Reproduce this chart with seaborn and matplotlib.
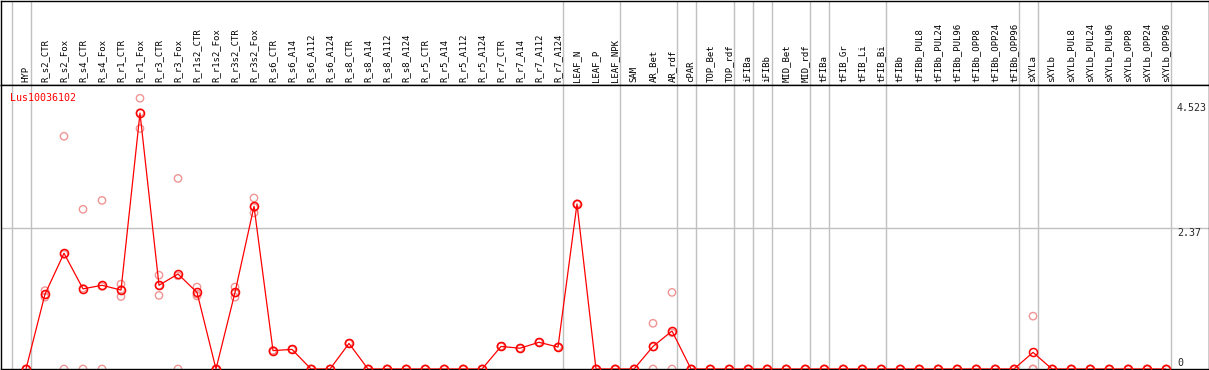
import numpy as np
import pandas as pd
import matplotlib
matplotlib.use("Agg")
import matplotlib.pyplot as plt
import matplotlib.transforms as mtransforms
import seaborn as sns

# sample labels (one column each)
samples = ['HYP', 'R_s2_CTR', 'R_s2_Fox', 'R_s4_CTR', 'R_s4_Fox', 'R_r1_CTR', 'R_r1_Fox',
           'R_r3_CTR', 'R_r3_Fox', 'R_r1s2_CTR', 'R_r1s2_Fox', 'R_r3s2_CTR', 'R_r3s2_Fox',
           'R_s6_CTR', 'R_s6_A14', 'R_s6_A112', 'R_s6_A124', 'R_s8_CTR', 'R_s8_A14',
           'R_s8_A112', 'R_s8_A124', 'R_r5_CTR', 'R_r5_A14', 'R_r5_A112', 'R_r5_A124',
           'R_r7_CTR', 'R_r7_A14', 'R_r7_A112', 'R_r7_A124', 'LEAF_N', 'LEAF_P', 'LEAF_NPK',
           'SAM', 'AR_Bet', 'AR_rdf', 'cPAR', 'TOP_Bet', 'TOP_rdf', 'iFIBa', 'iFIBb',
           'MID_Bet', 'MID_rdf', 'tFIBa', 'tFIB_Gr', 'tFIB_Li', 'tFIB_Bi', 'tFIBb',
           'tFIBb_PUL8', 'tFIBb_PUL24', 'tFIBb_PUL96', 'tFIBb_OPP8', 'tFIBb_OPP24',
           'tFIBb_OPP96', 'sXYLa', 'sXYLb', 'sXYLb_PUL8', 'sXYLb_PUL24', 'sXYLb_PUL96',
           'sXYLb_OPP8', 'sXYLb_OPP24', 'sXYLb_OPP96']

# mean expression per sample
mean_expr = [0, 1.26, 1.95, 1.35, 1.41, 1.33, 4.31, 1.41, 1.60, 1.29,
             0, 1.29, 2.74, 0.31, 0.33, 0, 0, 0.43, 0, 0,
             0, 0, 0, 0, 0, 0.38, 0.35, 0.45, 0.37, 2.78,
             0, 0, 0, 0.38, 0.64, 0, 0, 0, 0, 0,
             0, 0, 0, 0, 0, 0, 0, 0, 0, 0,
             0, 0, 0, 0.28, 0, 0, 0, 0, 0, 0,
             0]

# individual replicates
rep_a = [0, 1.32, 3.92, 2.69, 2.84, 1.43, 4.56, 1.58, 3.21, 1.38,
         0, 1.38, 2.88, 0.31, 0.33, 0, 0, 0.43, 0, 0,
         0, 0, 0, 0, 0, 0.38, 0.35, 0.45, 0.37, 2.78,
         0, 0, 0, 0.77, 1.29, 0, 0, 0, 0, 0,
         0, 0, 0, 0, 0, 0, 0, 0, 0, 0,
         0, 0, 0, 0.89, 0, 0, 0, 0, 0, 0,
         0]
rep_b = [0, 1.21, 0, 0, 0, 1.22, 4.05, 1.24, 0, 1.23,
         0, 1.21, 2.63, 0.31, 0.33, 0, 0, 0.43, 0, 0,
         0, 0, 0, 0, 0, 0.38, 0.35, 0.45, 0.37, 2.78,
         0, 0, 0, 0, 0, 0, 0, 0, 0, 0,
         0, 0, 0, 0, 0, 0, 0, 0, 0, 0,
         0, 0, 0, 0, 0, 0, 0, 0, 0, 0,
         0]
rep_c = [0, 1.25, 1.93, 1.36, 1.39, 1.34, 4.32, 1.41, 1.57, 1.26,
         0, 1.28, 2.72, 0.31, 0.33, 0, 0, 0.43, 0, 0,
         0, 0, 0, 0, 0, 0.38, 0.35, 0.45, 0.37, 2.78,
         0, 0, 0, 0.37, 0.61, 0, 0, 0, 0, 0,
         0, 0, 0, 0, 0, 0, 0, 0, 0, 0,
         0, 0, 0, 0, 0, 0, 0, 0, 0, 0,
         0]

# last column of each sample group
group_ends = [-1, 0, 28, 31, 34, 35, 37, 38, 39, 41, 42, 45, 52, 53, 60]

gene = 'Lus10036102'
max_val = 4.523
mid_val = 2.37

sns.set_style('white')
plt.rcParams['font.family'] = ['DejaVu Sans Mono']

W, H = 1209, 370
fig = plt.figure(figsize=(W / 100, H / 100), dpi=100)

head_h = 85
plot_h = 369 - 85
ax_head = fig.add_axes([0.5 / W, (H - head_h) / H, (W - 1) / W, (head_h - 0.5) / H])
ax = fig.add_axes([0.5 / W, 1.0 / H, (W - 1) / W, plot_h / H])

x0 = (0.5 - 26) / 19
x1 = (1208.5 - 26) / 19
for a in (ax_head, ax):
    a.set_xlim(x0, x1)
    a.set_xticks([]); a.set_yticks([])
    for s in a.spines.values():
        s.set_color('black'); s.set_linewidth(1.0)
    for g in group_ends:
        a.axvline(g + 0.25, color='#c0c0c0', lw=1.0, zorder=0)

ax_head.set_ylim(0, 1)
ax.set_ylim(0, plot_h / 59.37)

pos = np.arange(len(samples))
df = pd.DataFrame({'pos': pos, 'mean': mean_expr})
reps = pd.DataFrame({'pos': np.concatenate([pos, pos, pos]),
                     'val': rep_a + rep_b + rep_c})

ax.axhline(mid_val, color='#c0c0c0', lw=1.0, zorder=0)

sns.scatterplot(ax=ax, data=reps, x='pos', y='val', marker='o', s=28,
                facecolor='none', edgecolor='#f09494', linewidth=1.0, zorder=2)
sns.lineplot(ax=ax, data=df, x='pos', y='mean', color='red', lw=0.9,
             marker='o', markersize=5.8, markerfacecolor='none',
             markeredgecolor='red', markeredgewidth=1.1, zorder=3)
ax.set_xlabel(''); ax.set_ylabel('')

# sample names in the header
trans = mtransforms.blended_transform_factory(ax_head.transData, ax_head.transAxes)
for i, name in enumerate(samples):
    ax_head.text(i, 0.035, name, transform=trans, rotation=90, ha='center',
                 va='bottom', fontsize=6.5, color='black')

# gene name and scale labels
ax.text(x0 + 0.5, 4.57, gene, color='red', fontsize=7.2, ha='left', va='center')
lx = (1177 - 26) / 19
ax.text(lx, max_val - 0.05, '4.523', fontsize=7.2, ha='left', va='top')
ax.text(lx, mid_val, '2.37', fontsize=7.2, ha='left', va='top')
ax.text(lx, 0.02, '0', fontsize=7.2, ha='left', va='bottom')

fig.savefig('out.png', dpi=100, facecolor='#FFFFFF')
